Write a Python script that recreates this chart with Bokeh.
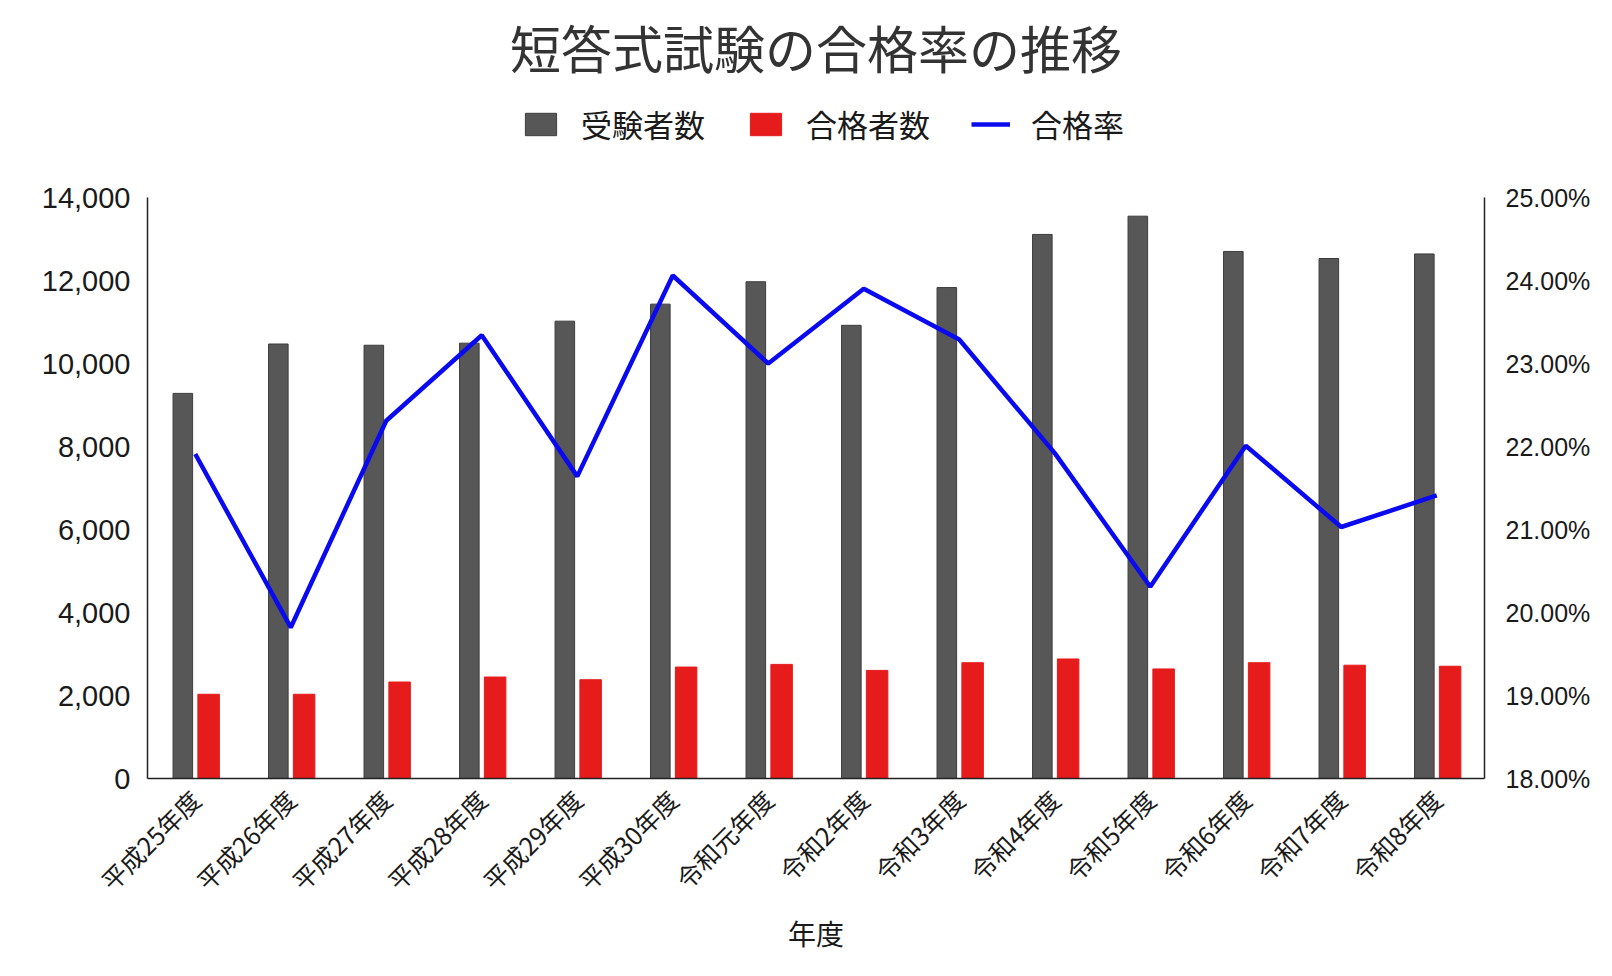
import math
from bokeh.plotting import figure
from bokeh.models import (ColumnDataSource, Range1d, LinearAxis, FixedTicker,
                          NumeralTickFormatter, Legend, LegendItem, FactorRange)
from bokeh.transform import dodge
from bokeh.embed import file_html
from bokeh.resources import INLINE

# ---- data ----
years = ["平成25年度", "平成26年度", "平成27年度", "平成28年度", "平成29年度",
         "平成30年度", "令和元年度", "令和2年度", "令和3年度", "令和4年度",
         "令和5年度", "令和6年度", "令和7年度", "令和8年度"]
examinees = [9280, 10470, 10440, 10490, 11020, 11430, 11970, 10920, 11830,
             13110, 13550, 12700, 12530, 12640]
passers = [2030, 2030, 2325, 2445, 2380, 2685, 2750, 2605, 2790, 2880,
           2640, 2790, 2730, 2705]
pass_rate = [0.2191, 0.1982, 0.2231, 0.2334, 0.2164, 0.2406, 0.2300, 0.2390,
             0.2329, 0.2192, 0.2031, 0.2201, 0.2103, 0.2141]
left_ticks = [0, 2000, 4000, 6000, 8000, 10000, 12000, 14000]
right_ticks = [0.18, 0.19, 0.20, 0.21, 0.22, 0.23, 0.24, 0.25]
left_lo, left_hi = 0, 14000
right_lo, right_hi = 0.18, 0.25

FONT = "'Liberation Sans', 'Noto Sans CJK JP', sans-serif"
CJK = "'Noto Sans CJK JP', sans-serif"

# ---- layout (pixels) ----
W, H = 1596, 958
FRAME_L, FRAME_R = 147, 1484
FRAME_TOP, FRAME_BOTTOM = 90, 778     # frame includes the legend strip
AXIS_TOP = 197                        # where the top tick sits
scale = (FRAME_BOTTOM - FRAME_TOP) / (FRAME_BOTTOM - AXIS_TOP)

src = ColumnDataSource(dict(year=years, examinees=examinees,
                            passers=passers, rate=pass_rate))

p = figure(width=W, height=H, x_range=FactorRange(*years, range_padding=0.0),
           y_range=Range1d(left_lo, left_lo + (left_hi - left_lo) * scale),
           output_backend="svg", toolbar_location=None,
           min_border_left=FRAME_L, min_border_right=W - FRAME_R,
           min_border_top=FRAME_TOP, min_border_bottom=H - FRAME_BOTTOM)
p.extra_y_ranges = {"pct": Range1d(right_lo, right_lo + (right_hi - right_lo) * scale)}
p.outline_line_color = None
p.background_fill_color = "white"
p.border_fill_color = "white"
p.xgrid.grid_line_color = None
p.ygrid.grid_line_color = None

r_gray = p.vbar(x=dodge("year", -0.13, range=p.x_range), top="examinees", width=0.205,
                source=src, fill_color="#575757", line_color="#3c3c3c", line_width=1)
r_red = p.vbar(x=dodge("year", 0.14, range=p.x_range), top="passers", width=0.225,
               source=src, fill_color="#e61b1b", line_color="#e61b1b", line_width=1)
r_line = p.line(x="year", y="rate", source=src, y_range_name="pct",
                line_color="#0a0af0", line_width=4.5)

# left axis
ya = p.yaxis[0]
ya.bounds = (left_lo, left_hi)
ya.ticker = FixedTicker(ticks=left_ticks)
ya.formatter = NumeralTickFormatter(format="0,0")
ya.major_label_text_font = FONT
ya.major_label_text_font_size = "29px"
ya.major_label_text_color = "#1a1a1a"
ya.major_tick_line_color = None
ya.minor_tick_line_color = None
ya.axis_line_color = "#222222"
ya.axis_line_width = 1.5
ya.major_label_standoff = 11

# right axis
ra = LinearAxis(y_range_name="pct", ticker=FixedTicker(ticks=right_ticks),
                formatter=NumeralTickFormatter(format="0.00%"),
                bounds=(right_lo, right_hi))
ra.major_label_text_font = FONT
ra.major_label_text_font_size = "25px"
ra.major_label_text_color = "#1a1a1a"
ra.major_tick_line_color = None
ra.minor_tick_line_color = None
ra.axis_line_color = "#222222"
ra.axis_line_width = 1.5
ra.major_label_standoff = 15
p.add_layout(ra, "right")

# x axis
xa = p.xaxis[0]
xa.major_label_orientation = math.pi / 4
xa.major_label_text_font = CJK
xa.major_label_text_font_size = "25px"
xa.major_label_text_color = "#1a1a1a"
xa.major_tick_line_color = None
xa.minor_tick_line_color = None
xa.axis_line_color = "#222222"
xa.axis_line_width = 1.5
xa.major_label_standoff = 10
xa.axis_label = "年度"
xa.axis_label_text_font = CJK
xa.axis_label_text_font_size = "28px"
xa.axis_label_text_font_style = "normal"
xa.axis_label_text_color = "#1a1a1a"
xa.axis_label_standoff = 0

legend = Legend(items=[LegendItem(label="受験者数", renderers=[r_gray]),
                       LegendItem(label="合格者数", renderers=[r_red]),
                       LegendItem(label="合格率", renderers=[r_line])],
                orientation="horizontal", location=(521 - FRAME_L, FRAME_BOTTOM - 146),
                glyph_width=39, glyph_height=28, label_standoff=21, spacing=41,
                padding=0, margin=0, border_line_color=None,
                background_fill_alpha=0, label_text_font=CJK,
                label_text_font_size="31px", label_text_color="#1a1a1a")
p.add_layout(legend, "center")

p.title.text = "短答式試験の合格率の推移"
p.title.align = "center"
p.title.offset = 22
p.title.standoff = 14
p.title.text_font = CJK
p.title.text_font_size = "51px"
p.title.text_font_style = "normal"
p.title.text_color = "#333333"

open("out.html", "w").write(file_html(p, INLINE))
